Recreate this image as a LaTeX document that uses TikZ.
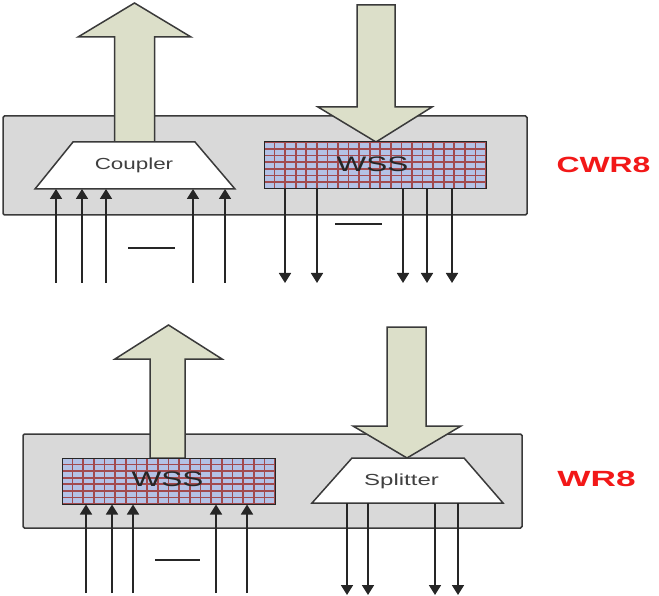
\documentclass[tikz,border=0pt]{standalone}
\usepackage{fontspec}
\setmainfont{Liberation Sans}
\usetikzlibrary{arrows.meta,calc}
\definecolor{boxgray}{HTML}{D9D9D9}
\definecolor{edge}{HTML}{3A3A3A}
\definecolor{blockfill}{HTML}{DCDFC9}
\definecolor{meshblue}{HTML}{B4C2E6}
\definecolor{meshred}{HTML}{A24A4E}
\definecolor{labelred}{HTML}{F21818}
\definecolor{txtgray}{HTML}{404040}
\begin{document}
\begin{tikzpicture}[x=1pt,y=-1pt,
  panel/.style={draw=edge,fill=boxgray,line width=1.5pt,rounded corners=1.5pt,inner sep=0pt},
  block/.style={draw=edge,fill=blockfill,line width=1.5pt,line join=miter},
  trap/.style={draw=edge,fill=white,line width=1.5pt,line join=miter},
  fiber/.style={draw=black!85,line width=1.7pt,-{Triangle[width=12pt,length=10pt]}},
  gap/.style={draw=black!85,line width=1.6pt},
  mesh/.style n args={4}{draw=black!85,line width=1pt,inner sep=0pt,
    minimum width=#3,minimum height=#4,
    path picture={
      \fill[meshblue] (path picture bounding box.south west) rectangle (path picture bounding box.north east);
      \foreach \k [evaluate=\k as \ff using \k/#1] in {0,...,#1}{
        \draw[meshred,line width=1.6pt]
          ($(path picture bounding box.south west)!\ff!(path picture bounding box.south east)$) --
          ($(path picture bounding box.north west)!\ff!(path picture bounding box.north east)$);}
      \foreach \k [evaluate=\k as \ff using \k/#2] in {0,...,#2}{
        \draw[meshred,line width=1.6pt]
          ($(path picture bounding box.south west)!\ff!(path picture bounding box.north west)$) --
          ($(path picture bounding box.south east)!\ff!(path picture bounding box.north east)$);}
    }},
  wsstext/.style={anchor=base,text=black!85,font=\fontsize{21}{21}\selectfont},
  traptext/.style={anchor=base,text=txtgray,font=\fontsize{16}{16}\selectfont},
  tag/.style={anchor=base,text=labelred,font=\bfseries\fontsize{22}{22}\selectfont}
]
\useasboundingbox (0,0) rectangle (659,596);

% ---------------- top panel (CWR8) ----------------
\node[panel,minimum width=524pt,minimum height=99pt] (box1) at (265,165.5) {};

% output block arrow (up)
\draw[block] (114.5,142) -- (114.5,37) -- (78,37) -- (134.5,3) -- (191,37) -- (154.5,37) -- (154.5,142) -- cycle;
% input block arrow (down)
\draw[block] (357,5) -- (395,5) -- (395,107) -- (432,107) -- (376,142) -- (318,107) -- (357,107) -- cycle;

% coupler
\draw[trap] (35,189) coordinate (cpbl) -- (73,142) -- (195,142) -- (235,189) coordinate (cpbr) -- cycle;
\node[traptext] (coupler) at (134,170) {\scalebox{1.4}[1]{Coupler}};

% WSS
\node[mesh={21}{7}{222pt}{47pt}] (wss1) at (375,165.5) {};
\node[wsstext] (wss1t) at (372.5,172) {\scalebox{1.5}[1]{WSS}};

% input fibres to coupler
\foreach \x [count=\i] in {56,82,106,193,225}{
  \coordinate (a\i) at (\x,283);
  \draw[fiber] (a\i) -- (a\i |- cpbl);
}
\coordinate (g1a) at (128,248); \coordinate (g1b) at (175,248);
\draw[gap] (g1a) -- (g1b);

% output fibres from WSS
\foreach \x [count=\i] in {285,317,403,427,452}{
  \coordinate (b\i) at (\x,283);
  \draw[fiber] (b\i |- wss1.south) -- (b\i);
}
\coordinate (g2a) at (335,224); \coordinate (g2b) at (382,224);
\draw[gap] (g2a) -- (g2b);

\node[tag] (cwr) at (603.5,173) {\scalebox{1.45}[1]{CWR8}};

% ---------------- bottom panel (WR8) ----------------
\node[panel,minimum width=499pt,minimum height=94pt] (box2) at (272.5,481) {};

% output block arrow (up)
\draw[block] (150,458) -- (150,359) -- (115,359) -- (168.5,325) -- (222,359) -- (185,359) -- (185,458) -- cycle;
% input block arrow (down)
\draw[block] (387,327) -- (426,327) -- (426,426) -- (461,426) -- (407,458) -- (353,426) -- (387,426) -- cycle;

% WSS
\node[mesh={20}{7}{213pt}{46pt}] (wss2) at (168.5,481) {};
\node[wsstext] (wss2t) at (167.5,486) {\scalebox{1.5}[1]{WSS}};

% splitter
\draw[trap] (312,503) coordinate (spbl) -- (352,458) -- (464,458) -- (503,503) -- cycle;
\node[traptext] (splitter) at (401.5,485) {\scalebox{1.5}[1]{Splitter}};

% input fibres to WSS
\foreach \x [count=\i] in {86,112,133,216,247}{
  \coordinate (c\i) at (\x,593);
  \draw[fiber] (c\i) -- (c\i |- wss2.south);
}
\coordinate (g3a) at (155,560); \coordinate (g3b) at (200,560);
\draw[gap] (g3a) -- (g3b);

% output fibres from splitter
\foreach \x [count=\i] in {347,368,435,458}{
  \coordinate (d\i) at (\x,595);
  \draw[fiber] (d\i |- spbl) -- (d\i);
}

\node[tag] (wr) at (596.5,486) {\scalebox{1.6}[1]{WR8}};
\end{tikzpicture}
\end{document}
